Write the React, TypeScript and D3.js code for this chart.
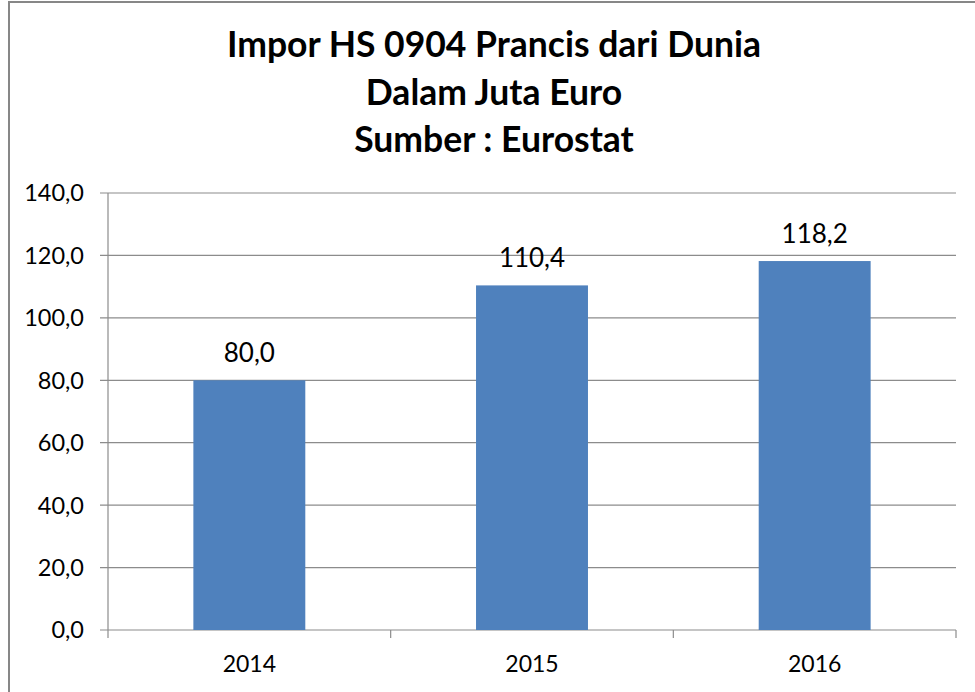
import React from "react";
import * as d3 from "d3";

const titleLines = ["Impor HS 0904 Prancis dari Dunia", "Dalam Juta Euro", "Sumber : Eurostat"];
const categories = ["2014", "2015", "2016"];
const values = [80.0, 110.4, 118.2];
const yTicks = [0, 20, 40, 60, 80, 100, 120, 140];

const W = 975;
const H = 692;
const FONT = "Lato, 'Open Sans', sans-serif";
const fmt = (v: number) => v.toFixed(1).replace(".", ",");

export default function App() {
  const left = 108, right = 956, top = 193, bottom = 630;
  const x = d3.scaleBand<string>().domain(categories).range([left, right]).paddingInner(0.604).paddingOuter(0.302);
  const xb = d3.scaleBand<string>().domain(categories).range([left, right]).padding(0);
  const y = d3.scaleLinear().domain([0, 140]).range([bottom, top]);
  const boundaries = [...categories.map((c) => xb(c) as number), right];

  return (
    <svg width={W} height={H} style={{ position: "absolute", left: 0, top: 0, background: "#fff" }}>
      <rect x={9} y={2} width={W + 20} height={H + 20} fill="#fff" stroke="#878787" strokeWidth={2} />
      {titleLines.map((t, i) => (
        <text key={t} x={494} y={57 + i * 47.5} textAnchor="middle" fontFamily={FONT} fontWeight="bold" fontSize={35.5} fill="#000">
          {t}
        </text>
      ))}
      {yTicks.map((t) => (
        <g key={t}>
          <line x1={100} x2={right} y1={y(t)} y2={y(t)} stroke="#8c8c8c" strokeWidth={1.2} />
          <text x={84} y={y(t)} dy="0.36em" textAnchor="end" fontFamily={FONT} fontSize={23.5} fill="#000">
            {fmt(t)}
          </text>
        </g>
      ))}
      <line x1={left} x2={left} y1={top} y2={bottom} stroke="#8c8c8c" strokeWidth={1.2} />
      {boundaries.map((b, i) => (
        <line key={i} x1={b} x2={b} y1={bottom} y2={bottom + 8} stroke="#8c8c8c" strokeWidth={1.2} />
      ))}
      {categories.map((c, i) => (
        <g key={c}>
          <rect x={x(c)} y={y(values[i])} width={x.bandwidth()} height={bottom - y(values[i])} fill="#4F81BD" />
          <text x={(x(c) as number) + x.bandwidth() / 2} y={y(values[i]) - 18} textAnchor="middle" fontFamily={FONT} fontSize={26} fill="#000">
            {fmt(values[i])}
          </text>
          <text x={(x(c) as number) + x.bandwidth() / 2} y={672} textAnchor="middle" fontFamily={FONT} fontSize={23} fill="#000">
            {c}
          </text>
        </g>
      ))}
    </svg>
  );
}
